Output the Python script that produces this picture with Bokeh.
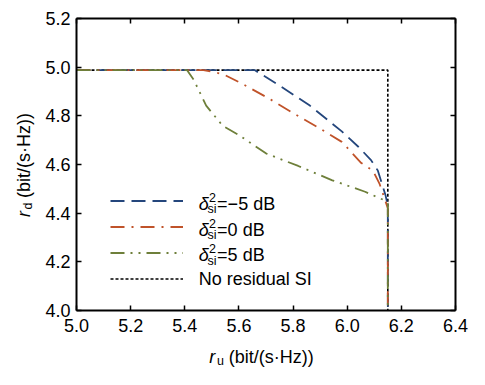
import math
from bokeh.plotting import figure
from bokeh.models import Range1d, LinearAxis, Legend, LegendItem, Label, FixedTicker, NumeralTickFormatter
from bokeh.embed import file_html
from bokeh.resources import INLINE

# ---- data ----
ru_m5 = [5.00, 5.658, 5.755, 5.862, 5.980, 6.041, 6.088, 6.113, 6.141, 6.150, 6.150]
rd_m5 = [4.988, 4.988, 4.921, 4.842, 4.736, 4.673, 4.618, 4.575, 4.476, 4.430, 4.000]

ru_0 = [5.00, 5.469, 5.540, 5.612, 5.708, 5.801, 5.887, 5.980, 6.052, 6.095, 6.120, 6.141, 6.150, 6.150]
rd_0 = [4.988, 4.988, 4.972, 4.932, 4.873, 4.811, 4.756, 4.693, 4.606, 4.575, 4.519, 4.450, 4.420, 4.000]

ru_5 = [5.00, 5.408, 5.433, 5.479, 5.540, 5.601, 5.701, 5.819, 5.945, 6.066, 6.131, 6.150, 6.150]
rd_5 = [4.988, 4.988, 4.948, 4.842, 4.759, 4.720, 4.645, 4.594, 4.535, 4.488, 4.456, 4.440, 4.000]

ru_ideal = [5.00, 6.15, 6.15]
rd_ideal = [4.988, 4.988, 4.000]

x_ticks = [5.0, 5.2, 5.4, 5.6, 5.8, 6.0, 6.2, 6.4]
y_ticks = [4.0, 4.2, 4.4, 4.6, 4.8, 5.0, 5.2]

series_suffix = ["=\u22125 dB", "=0 dB", "=5 dB"]
ideal_label = "No residual SI"
axis_unit = "(bit/(s\u00b7Hz))"

BLUE = "#24467c"
RED = "#c0532a"
GREEN = "#6e7f3a"
FONT = "Liberation Sans"

# ---- layout (reference is 485x385; scaled to fit the 469x369 area) ----
W, H = 469, 369
SX, SY = W / 485.0, H / 385.0
BL, BR, BT, BB = 76, 455, 18, 310      # plot box in canvas pixels

X0, X1 = 5.0, 6.4
Y0, Y1 = 4.0, 5.2
kx = (X1 - X0) / (BR - BL)
ky = (Y1 - Y0) / (BB - BT)
x_range = Range1d(X0 - BL * kx, X1 + (W - BR) * kx)
y_range = Range1d(Y0 - (H - BB) * ky, Y1 + BT * ky)

p = figure(width=W, height=H, output_backend="svg", toolbar_location=None,
           x_range=x_range, y_range=y_range,
           min_border_left=0, min_border_right=0, min_border_top=0, min_border_bottom=0,
           x_axis_location=None, y_axis_location=None)
p.grid.visible = False
p.outline_line_color = None
p.background_fill_color = "white"
p.border_fill_color = "white"

def mk_axis(ticks, bounds, loc, show_labels, standoff):
    ax = LinearAxis(ticker=FixedTicker(ticks=ticks), formatter=NumeralTickFormatter(format="0.0"),
                    fixed_location=loc, bounds=bounds)
    ax.axis_line_color = "black"
    ax.axis_line_width = 2
    ax.major_tick_in = 5
    ax.major_tick_out = 0
    ax.major_tick_line_width = 1.5
    ax.minor_tick_line_color = None
    ax.major_label_text_font = FONT
    ax.major_label_text_font_size = "18px" if show_labels else "0px"
    ax.major_label_text_color = "black" if show_labels else None
    ax.major_label_standoff = standoff
    return ax

p.add_layout(mk_axis(x_ticks, (X0, X1), Y0, True, 8), "below")
p.add_layout(mk_axis(y_ticks, (Y0, Y1), X0, True, 6), "left")
p.add_layout(mk_axis(x_ticks, (X0, X1), Y1, False, 0), "above")
p.add_layout(mk_axis(y_ticks, (Y0, Y1), X1, False, 0), "right")

# ---- curves ----
r_ideal = p.line(ru_ideal, rd_ideal, line_color="black", line_width=1.6, line_dash="3 2")
r_m5 = p.line(ru_m5, rd_m5, line_color=BLUE, line_width=1.8, line_dash="14 7")
r_0 = p.line(ru_0, rd_0, line_color=RED, line_width=1.8, line_dash="14 7 2 7")
r_5 = p.line(ru_5, rd_5, line_color=GREEN, line_width=1.8, line_dash="14 6 2 6 2 6")

legend = Legend(items=[LegendItem(label=" ", renderers=[r_m5]),
                       LegendItem(label=" ", renderers=[r_0]),
                       LegendItem(label=" ", renderers=[r_5]),
                       LegendItem(label=" ", renderers=[r_ideal])],
                location=(BL + 34, (H - BB) + 22), glyph_width=73, glyph_height=19, label_height=19,
                spacing=7, padding=0, margin=0, label_standoff=0,
                border_line_color=None, background_fill_alpha=0)
p.add_layout(legend)

# ---- text, positioned by reference-page pixel (rx, ry) ----
def lab(text, rx, ry, size, style="normal", baseline="middle", angle=0.0):
    cx, cy = rx * SX, ry * SY
    p.add_layout(Label(x=cx, y=H - cy, x_units="screen", y_units="screen",
                       text=text, text_font=FONT, text_font_size=size,
                       text_font_style=style, text_align="left", text_baseline=baseline,
                       angle=angle, text_color="black"))

rows = [212.0, 239.0, 265.7, 290.7]
for i, suf in enumerate(series_suffix):
    yy = rows[i]
    lab("\u03b4", 205, yy, "18px", style="italic")
    lab("2", 215.5, yy - 6.5, "12.5px")
    lab("si", 214, yy + 6, "12.5px")
    lab(suf, 224, yy, "18px")
lab(ideal_label, 205, rows[3], "18px")

# x axis label
lab("r", 216, 372, "18px", style="italic", baseline="alphabetic")
lab("u", 224, 376, "12.5px", baseline="alphabetic")
lab(axis_unit, 236, 372, "18px", baseline="alphabetic")

# y axis label (rotated, reads bottom to top)
ang = math.pi / 2
lab("r", 24, 226, "18px", style="italic", baseline="alphabetic", angle=ang)
lab("d", 28.5, 218, "12.5px", baseline="alphabetic", angle=ang)
lab(axis_unit, 24, 206, "18px", baseline="alphabetic", angle=ang)

open("out.html", "w").write(file_html(p, INLINE))
